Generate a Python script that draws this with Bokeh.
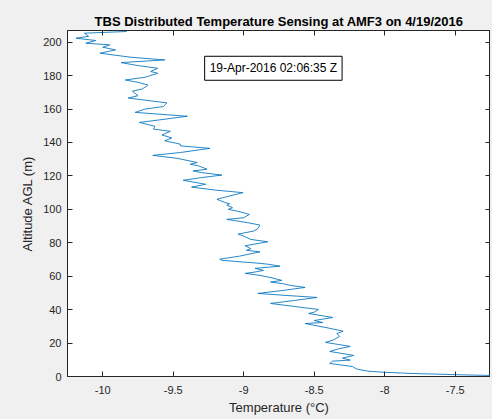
from bokeh.plotting import figure
from bokeh.models import Range1d, FixedTicker, LinearAxis, Label
from bokeh.embed import file_html
from bokeh.resources import INLINE

altitude = [0, 1, 1.8, 2.5, 3.2, 4.5, 6, 7.8, 9.2, 9.8, 11, 12.6, 15, 16.5, 18, 20.4, 22, 24,
            25.7, 27.1, 29, 31.7, 32.3, 33.5, 35.3, 37.7, 38.5, 40.1, 42, 43.7, 45.5, 47.3,
            48.5, 49.7, 51.5, 53.3, 54.5, 55.5, 56.5, 57.5, 59, 60.5, 61.7, 62.5, 63.5, 64.7,
            66, 67.2, 67.7, 69.5, 70.2, 72, 74.6, 75.5, 76.5, 78.2, 80.6, 82, 84, 85.2, 87,
            88.5, 90.6, 92, 94, 95, 97, 99, 100, 101, 102.5, 103.4, 104, 106, 108, 110, 111.5,
            113.3, 115, 117.4, 119, 120.5, 122, 123, 124, 126, 127, 128, 130.5, 132.3, 134,
            136.5, 138, 139, 141, 142.7, 144.5, 146.7, 148, 149.7, 152, 153.5, 155.7, 158, 160,
            161.5, 163.7, 166.6, 168, 170.7, 172, 173.6, 174.4, 176, 177.4, 179, 181.4, 182.5,
            184.4, 186, 187.8, 189.4, 191, 193.4, 195.4, 197, 198.4, 199.4, 201, 202.4, 203.5,
            205.4, 206.4]
temperature = [-6.9, -7.45, -7.8, -8.0, -8.12, -8.2, -8.23, -8.39, -8.37, -8.245, -8.3, -8.22,
               -8.39, -8.33, -8.245, -8.42, -8.36, -8.32, -8.34, -8.295, -8.4, -8.565, -8.44,
               -8.5, -8.37, -8.54, -8.5, -8.47, -8.65, -8.81, -8.64, -8.48, -8.7, -8.9, -8.72,
               -8.565, -8.67, -8.72, -8.81, -8.73, -8.8, -8.885, -8.99, -8.92, -8.86, -8.92,
               -8.743, -8.83, -8.885, -9.155, -9.17, -9.03, -8.885, -8.98, -8.95, -8.99, -8.83,
               -8.95, -9.0, -9.04, -8.93, -8.9, -8.885, -8.97, -9.12, -9.0, -8.96, -9.05, -9.11,
               -9.08, -9.12, -9.1, -9.13, -9.19, -9.1, -9.006, -9.2, -9.37, -9.27, -9.43, -9.3,
               -9.155, -9.3, -9.36, -9.26, -9.32, -9.38, -9.33, -9.47, -9.645, -9.45, -9.24,
               -9.45, -9.45, -9.56, -9.51, -9.58, -9.52, -9.64, -9.63, -9.74, -9.6, -9.40,
               -9.77, -9.7, -9.57, -9.545, -9.82, -9.75, -9.79, -9.72, -9.69, -9.68, -9.75,
               -9.84, -9.7, -9.61, -9.66, -9.61, -9.75, -9.87, -9.56, -9.8, -10.02, -9.91, -10.0,
               -9.95, -10.12, -10.05, -10.19, -10.1, -10.13, -9.83]

x_ticks = [-10, -9.5, -9, -8.5, -8, -7.5]
x_tick_labels = ["-10", "-9.5", "-9", "-8.5", "-8", "-7.5"]
y_ticks = [0, 20, 40, 60, 80, 100, 120, 140, 160, 180, 200]
y_tick_labels = ["0", "20", "40", "60", "80", "100", "120", "140", "160", "180", "200"]

title_text = "TBS Distributed Temperature Sensing at AMF3 on 4/19/2016"
x_label = "Temperature (°C)"
y_label = "Altitude AGL (m)"
stamp_text = "19-Apr-2016 02:06:35 Z"

FONT = "Liberation Sans"
AX = "#262626"
BG = "#f0f0f0"

p = figure(width=490, height=417, output_backend="svg", toolbar_location=None,
           x_range=Range1d(-10.25, -7.25), y_range=Range1d(0, 207),
           min_border_left=67, min_border_right=0, min_border_top=30, min_border_bottom=41,
           background_fill_color="white", border_fill_color=BG,
           outline_line_color=AX, outline_line_width=1)

p.title.text = title_text
p.title.text_font = FONT
p.title.text_font_size = "13px"
p.title.text_font_style = "bold"
p.title.text_color = "black"
p.title.align = "center"
p.title.offset = 0
p.title.standoff = 4

p.grid.visible = False

p.line(temperature, altitude, line_color="#0072BD", line_width=1, line_alpha=0.85)

for ax, ticks, labels in ((p.xaxis[0], x_ticks, x_tick_labels), (p.yaxis[0], y_ticks, y_tick_labels)):
    ax.ticker = FixedTicker(ticks=ticks)
    ax.major_label_overrides = {t: l for t, l in zip(ticks, labels)}
    ax.minor_tick_line_color = None
    ax.major_tick_in = 5
    ax.major_tick_out = 0
    ax.major_tick_line_color = AX
    ax.axis_line_color = AX
    ax.major_label_text_font = FONT
    ax.major_label_text_font_size = "11px"
    ax.major_label_text_color = AX
    ax.axis_label_text_font = FONT
    ax.axis_label_text_font_size = "13px"
    ax.axis_label_text_font_style = "normal"
    ax.axis_label_text_color = AX

p.xaxis[0].axis_label = x_label
p.xaxis[0].major_label_standoff = 9
p.xaxis[0].axis_label_standoff = 3
p.yaxis[0].axis_label = y_label
p.yaxis[0].major_label_standoff = 6
p.yaxis[0].axis_label_standoff = 5

for loc, ticks in (("right", y_ticks), ("above", x_ticks)):
    a = LinearAxis(ticker=FixedTicker(ticks=ticks), major_tick_in=5, major_tick_out=0,
                   minor_tick_line_color=None, major_tick_line_color=AX, axis_line_color=AX,
                   major_label_text_font_size="0px", major_label_text_color=None,
                   major_label_standoff=0, axis_label_standoff=0)
    p.add_layout(a, loc)

p.add_layout(Label(x=-8.79, y=184.4, text=stamp_text, text_align="center", text_baseline="middle",
                   text_font=FONT, text_font_size="12px", text_color="black",
                   background_fill_color="white", border_line_color="black", border_line_width=1,
                   padding=5))

html = file_html(p, INLINE)
html = html.replace("<head>", "<head><style>body{background:%s;}</style>" % BG, 1)
open("out.html", "w").write(html)
